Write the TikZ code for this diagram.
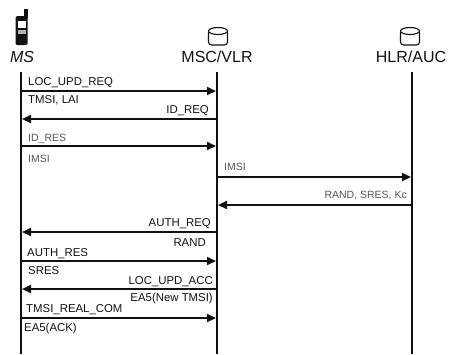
\documentclass[tikz,border=0pt]{standalone}
\usepackage{fontspec}
\setmainfont{Liberation Sans}
\usepackage{xcolor}
\usetikzlibrary{arrows.meta,positioning,shapes.geometric}
\definecolor{ink}{HTML}{111111}
\definecolor{faded}{HTML}{555555}
\tikzset{
  head/.style={font=\fontsize{16}{16}\selectfont,text=ink,inner sep=0pt},
  store/.style={draw=ink,rounded corners=3pt,fill=white,line width=1.1pt,minimum height=15pt,minimum width=19pt,inner sep=0pt},
  lid/.style={draw=ink,ellipse,fill=white,line width=1.1pt,minimum height=7pt,minimum width=19pt,inner sep=0pt},
  life/.style={line width=2.8pt,draw=ink},
  flow/.style={-{Triangle[length=9pt,width=8pt]},line width=2.1pt,draw=ink,shorten >=1pt},
  lbl/.style={font=\fontsize{11.4}{11.4}\selectfont,text=ink,inner sep=0pt},
  lblw/.style={lbl,anchor=west},
  lble/.style={lbl,anchor=east},
  dim/.style={text=faded,font=\fontsize{10.5}{10.5}\selectfont}
}
\begin{document}
\begin{tikzpicture}[x=1pt,y=-1pt]
  \useasboundingbox (0,0) rectangle (454,354);
  % phone
  \node[fill=ink,minimum width=3.5pt,minimum height=9pt,inner sep=0pt] (aerial) at (26,13) {};
  \node[fill=ink,rounded corners=1.5pt,minimum width=12pt,minimum height=29pt,inner sep=0pt] (phone) at (21.5,30.5) {};
  \node[fill=white,minimum width=8pt,minimum height=7pt,inner sep=0pt] (screen) at (21.5,24) {};
  \node[fill=white!70!black,minimum width=8pt,minimum height=4pt,inner sep=0pt] (keys) at (21.5,31.5) {};
  % heads
  \node[head] (ms) at (22,57) {\textit{MS}};
  \node[store] (mscdb) at (218,37.5) {};
  \node[lid] (msclid) at (218,31) {};
  \node[head] (msc) at (217,57) {MSC/VLR};
  \node[store] (hlrdb) at (410,37.5) {};
  \node[lid] (hlrlid) at (410,31) {};
  \node[head] (hlr) at (411,57) {HLR/AUC};
  % lifelines
  \coordinate (mstop) at (21,72); \coordinate (msbot) at (21,354);
  \coordinate (msctop) at (217,72); \coordinate (mscbot) at (217,354);
  \coordinate (hlrtop) at (412,72); \coordinate (hlrbot) at (412,354);
  \draw[life] (mstop) -- (msbot);
  \draw[life] (msctop) -- (mscbot);
  \draw[life] (hlrtop) -- (hlrbot);
  % message ends
  \coordinate (ms1) at (21,91);   \coordinate (msc1) at (217,91);
  \coordinate (ms2) at (21,119);  \coordinate (msc2) at (217,119);
  \coordinate (ms3) at (21,146);  \coordinate (msc3) at (217,146);
  \coordinate (msc4) at (217,177); \coordinate (hlr4) at (412,177);
  \coordinate (msc5) at (217,205); \coordinate (hlr5) at (412,205);
  \coordinate (ms6) at (21,232);  \coordinate (msc6) at (217,232);
  \coordinate (ms7) at (21,261);  \coordinate (msc7) at (217,261);
  \coordinate (ms8) at (21,289);  \coordinate (msc8) at (217,289);
  \coordinate (ms9) at (21,318);  \coordinate (msc9) at (217,318);
  \draw[flow] (ms1) -- (msc1);
  \draw[flow] (msc2) -- (ms2);
  \draw[flow] (ms3) -- (msc3);
  \draw[flow] (msc4) -- (hlr4);
  \draw[flow] (hlr5) -- (msc5);
  \draw[flow] (msc6) -- (ms6);
  \draw[flow] (ms7) -- (msc7);
  \draw[flow] (msc8) -- (ms8);
  \draw[flow] (ms9) -- (msc9);
  % labels
  \node[lblw] (t1) at (28,83) {LOC\_UPD\_REQ};
  \node[lblw] (t2) at (28,100) {TMSI, LAI};
  \node[lble] (t3) at (209,111) {ID\_REQ};
  \node[lblw,dim] (t4) at (28,139) {ID\_RES};
  \node[lblw,dim] (t5) at (28,159) {IMSI};
  \node[lblw,dim] (t6) at (224,167) {IMSI};
  \node[lble,dim] (t7) at (407,195) {RAND, SRES, Kc};
  \node[lble] (t8) at (211,224) {AUTH\_REQ};
  \node[lble] (t9) at (206,243) {RAND};
  \node[lblw] (t10) at (27,254) {AUTH\_RES};
  \node[lblw] (t11) at (28,271) {SRES};
  \node[lble] (t12) at (213,282) {LOC\_UPD\_ACC};
  \node[lble] (t13) at (213,299) {EA5(New TMSI)};
  \node[lblw] (t14) at (26,310) {TMSI\_REAL\_COM};
  \node[lblw] (t15) at (24,329) {EA5(ACK)};
\end{tikzpicture}
\end{document}
